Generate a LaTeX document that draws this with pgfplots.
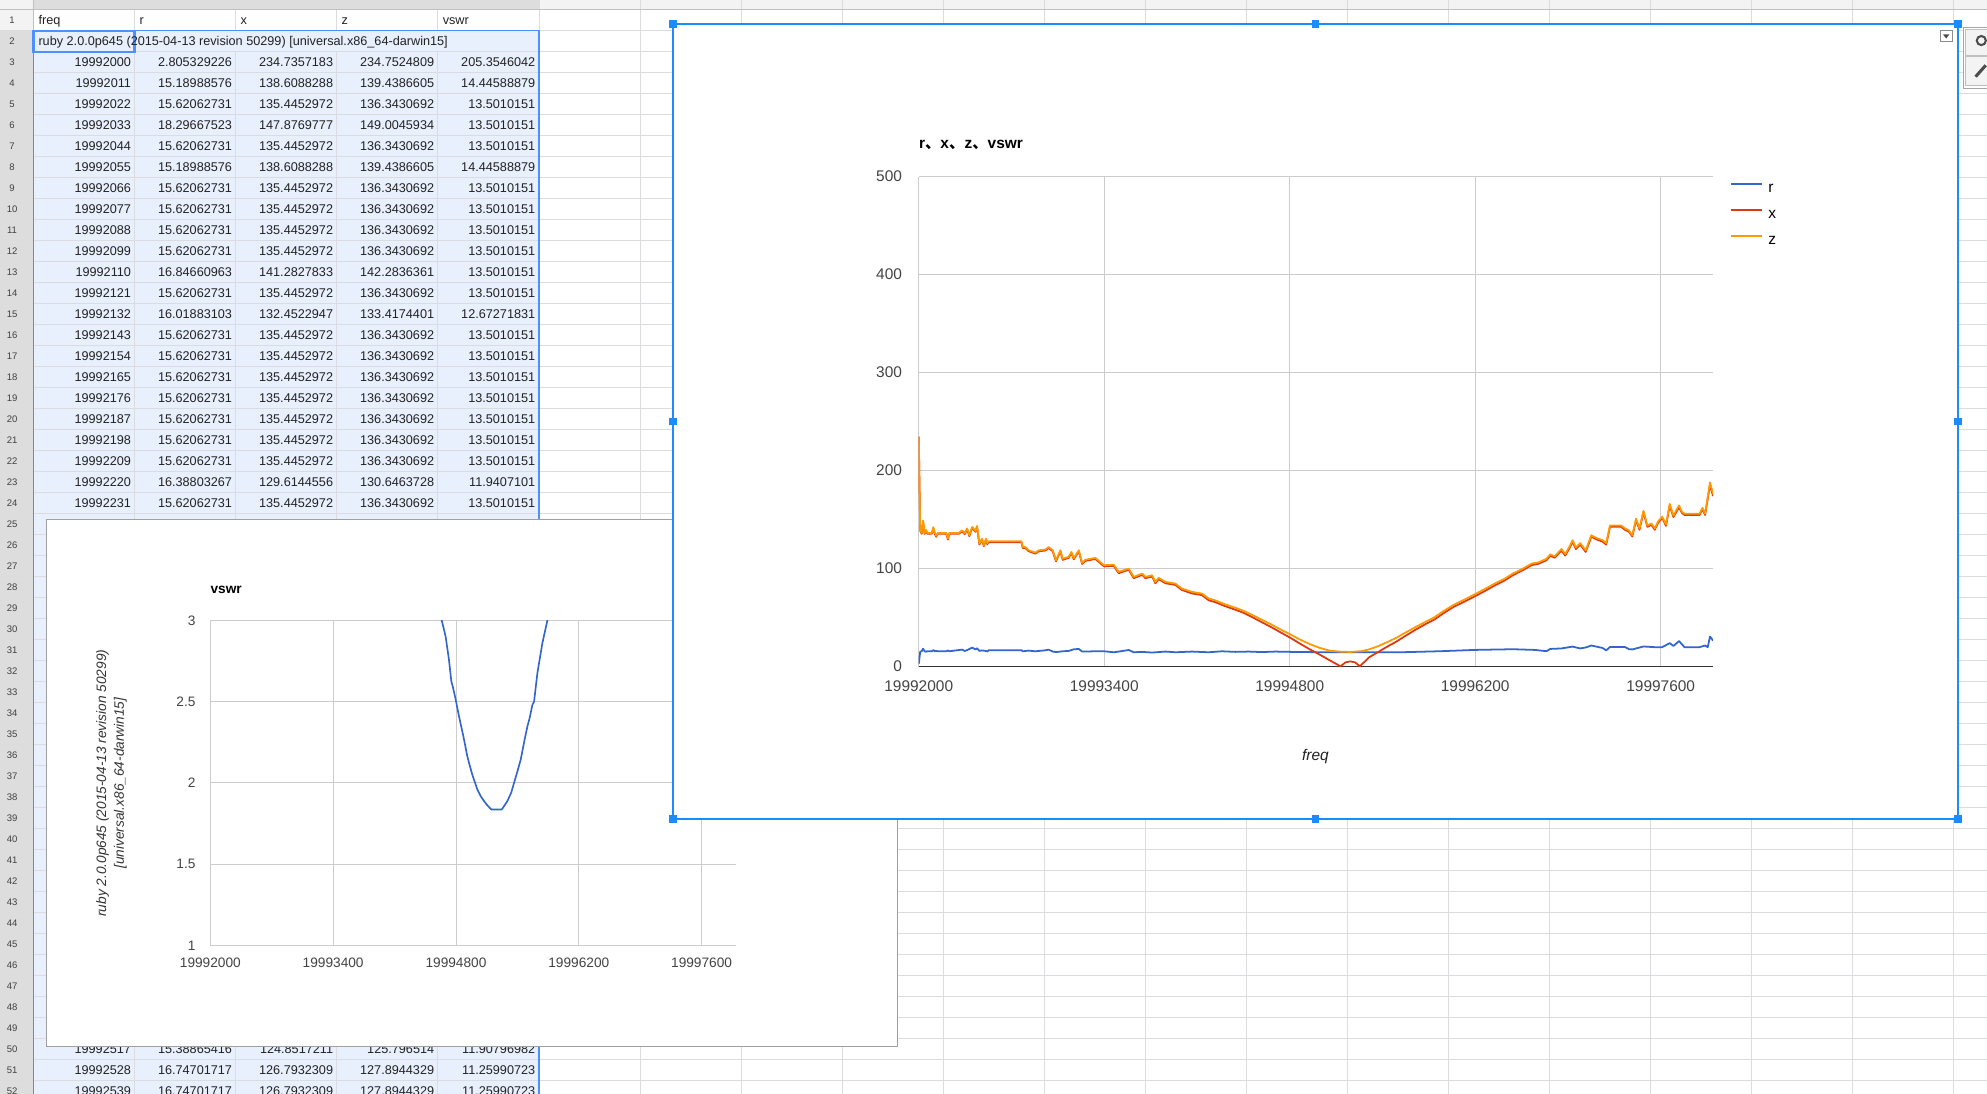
\documentclass[border=0pt]{standalone}
\usepackage{pgfplots}
\pgfplotsset{compat=1.18}
\usepackage{fontspec}
\setmainfont{Liberation Sans}
\newfontfamily\cjk{Noto Sans CJK SC}

\definecolor{selfill}{RGB}{232,240,253}
\definecolor{selblue}{RGB}{77,144,254}
\definecolor{hdrlight}{RGB}{243,243,243}
\definecolor{hdrdark}{RGB}{221,221,221}
\definecolor{hdrline}{RGB}{192,192,192}
\definecolor{gridc}{RGB}{218,220,224}
\definecolor{chartgrid}{RGB}{204,204,204}
\definecolor{tickc}{RGB}{68,68,68}
\definecolor{rblue}{RGB}{51,102,204}
\definecolor{xred}{RGB}{220,57,18}
\definecolor{zorange}{RGB}{255,153,0}
\definecolor{chartblue}{RGB}{26,140,255}
\definecolor{framegray}{RGB}{160,160,160}
\definecolor{celltext}{RGB}{34,34,34}

\tikzset{
  cell/.style={anchor=base east, inner sep=0pt, font=\fontsize{10}{12}\selectfont, text=celltext},
  hcell/.style={anchor=base west, inner sep=0pt, font=\fontsize{10}{12}\selectfont, text=celltext},
  rownum/.style={anchor=center, inner sep=0pt, font=\fontsize{7.5}{9}\selectfont, text=black!75},
}
\newcommand{\trow}[6]{%
  \pgfmathsetmacro{\yb}{-(16+(#1-1)*16.57)-3.6}%
  \node[cell] at (103.55,\yb) {#2};
  \node[cell] at (183.3,\yb) {#3};
  \node[cell] at (263.05,\yb) {#4};
  \node[cell] at (342.8,\yb) {#5};
  \node[cell] at (422.55,\yb) {#6};
}
\newcommand{\std}[2]{\trow{#1}{#2}{15.62062731}{135.4452972}{136.3430692}{13.5010151}}

% x values below are frequencies in Hz above 19992000 (freq - 19992000)
\pgfplotsset{
  freqaxis/.style={
    scale only axis,
    xmin=0, xmax=5995,
    xtick={0,1400,2800,4200,5600},
    xticklabels={19992000,19993400,19994800,19996200,19997600},
    /pgf/number format/assume math mode=true,
    grid=major, grid style={draw=chartgrid, line width=0.75pt},
    axis line style={draw=none},
    major tick length=0pt,
    every axis plot/.append style={line join=round},
  }
}

\begin{document}
\begin{tikzpicture}
\useasboundingbox (0pt,0pt) rectangle (1568pt,-863pt);
\begin{scope}[x=1pt,y=1pt]
\fill[white] (0,0) rectangle (1568,-863);
% selection fill
\fill[selfill] (26.5,-24.29) rectangle (425.25,-863);
% header band and row header
\fill[hdrlight] (0,0) rectangle (1568,-7.72);
\fill[hdrdark] (26.5,0) rectangle (425.25,-7.72);
\fill[hdrlight] (0,-7.72) rectangle (26.5,-24.29);
\fill[hdrdark] (0,-24.29) rectangle (26.5,-863);
% grid lines
\foreach \k in {1,...,52} \draw[gridc, line width=0.6pt] (0,{-(7.72+16.57*\k)}) -- (1568,{-(7.72+16.57*\k)});
\foreach \k in {1,...,4} {
  \draw[gridc, line width=0.6pt] ({26.5+79.75*\k},0) -- ({26.5+79.75*\k},-24.29);
  \draw[gridc, line width=0.6pt] ({26.5+79.75*\k},-40.86) -- ({26.5+79.75*\k},-863);
}
\foreach \k in {5,...,20} \draw[gridc, line width=0.6pt] ({26.5+79.75*\k},0) -- ({26.5+79.75*\k},-863);
\draw[hdrline, line width=0.6pt] (26.5,0) -- (26.5,-863);
\draw[hdrline, line width=0.6pt] (0,-7.72) -- (1568,-7.72);
% selection border
\draw[selblue, line width=1pt] (26.5,-863) -- (26.5,-24.29) -- (425.25,-24.29) -- (425.25,-863);
\draw[selblue, line width=2pt] (26.5,-24.29) rectangle (106.25,-40.86);
% row numbers
\foreach \n in {1,...,52} \node[rownum] at (9.5,{-(16+(\n-1)*16.57)}) {\n};
% header
\node[hcell] at (30.2,-19.6) {freq};
\node[hcell] at (109.95,-19.6) {r};
\node[hcell] at (189.7,-19.6) {x};
\node[hcell] at (269.45,-19.6) {z};
\node[hcell] at (349.2,-19.6) {vswr};
\node[hcell] at (30.2,-36.17) {ruby 2.0.0p645 (2015-04-13 revision 50299) [universal.x86\_64-darwin15]};
% rows
\trow{3}{19992000}{2.805329226}{234.7357183}{234.7524809}{205.3546042}
\trow{4}{19992011}{15.18988576}{138.6088288}{139.4386605}{14.44588879}
\std{5}{19992022}
\trow{6}{19992033}{18.29667523}{147.8769777}{149.0045934}{13.5010151}
\std{7}{19992044}
\trow{8}{19992055}{15.18988576}{138.6088288}{139.4386605}{14.44588879}
\std{9}{19992066}
\std{10}{19992077}
\std{11}{19992088}
\std{12}{19992099}
\trow{13}{19992110}{16.84660963}{141.2827833}{142.2836361}{13.5010151}
\std{14}{19992121}
\trow{15}{19992132}{16.01883103}{132.4522947}{133.4174401}{12.67271831}
\std{16}{19992143}
\std{17}{19992154}
\std{18}{19992165}
\std{19}{19992176}
\std{20}{19992187}
\std{21}{19992198}
\std{22}{19992209}
\trow{23}{19992220}{16.38803267}{129.6144556}{130.6463728}{11.9407101}
\std{24}{19992231}
\trow{50}{19992517}{15.38865416}{124.8517211}{125.796514}{11.90796982}
\trow{51}{19992528}{16.74701717}{126.7932309}{127.8944329}{11.25990723}
\trow{52}{19992539}{16.74701717}{126.7932309}{127.8944329}{11.25990723}
% vswr chart frame
\filldraw[fill=white, draw=framegray, line width=0.8pt] (36.5,-409.6) rectangle (708.5,-825.5);
\node[anchor=base west, inner sep=0pt, font=\bfseries\fontsize{10.8}{12}\selectfont] at (166,-468.5) {vswr};
\node[rotate=90, align=center, inner sep=0pt, font=\itshape\fontsize{10.8}{14}\selectfont, text=black!80] at (88,-618) {ruby 2.0.0p645 (2015-04-13 revision 50299)\\{}[universal.x86\_64-darwin15]};
\end{scope}

\begin{axis}[freqaxis,
  at={(166pt,-746pt)}, anchor=south west,
  width=415pt, height=256.5pt,
  ymin=1, ymax=3, ytick={1,1.5,2,2.5,3},
  tick label style={font=\fontsize{10.8}{12}\selectfont, text=tickc},
  xticklabel style={anchor=base, yshift=-17.3pt},
  yticklabel style={xshift=-8.2pt},
]
\addplot[rblue, line width=1.3pt] coordinates {
(11,14.45) (22,13.50) (220,11.94) (517,11.91) (528,11.26) (2580,3.15) (2637,3.00)
(2660,2.95) (2682,2.90) (2720,2.757) (2747,2.624) (2760,2.60) (2789,2.532) (2834,2.41) (2884,2.287)
(2929,2.164) (2950,2.12) (2986,2.05) (3043,1.96) (3080,1.92) (3119,1.888) (3160,1.86) (3203,1.836)
(3321,1.836) (3340,1.85) (3386,1.888) (3430,1.94) (3462,2.0) (3500,2.07) (3538,2.143) (3580,2.26)
(3614,2.347) (3640,2.40) (3671,2.48) (3690,2.50) (3728,2.675) (3760,2.78) (3785,2.86) (3842,3.0)
(3900,3.2)
};
\end{axis}

\begin{scope}[x=1pt,y=1pt]
\fill[white] (531,-19) rectangle (1545,-646.5);
\end{scope}

\begin{axis}[freqaxis,
  at={(725pt,-526pt)}, anchor=south west,
  width=626.8pt, height=386.6pt,
  ymin=0, ymax=500, ytick={0,100,200,300,400,500},
  tick label style={font=\fontsize{12.2}{14}\selectfont, text=tickc},
  xticklabel style={anchor=base, yshift=-19.3pt},
  yticklabel style={xshift=-9.7pt},
  legend style={at={(axis description cs:1.0208,0.9904)}, anchor=north west, draw=none, fill=none,
    inner sep=0pt, row sep=11.9pt, font=\fontsize{12.2}{14}\selectfont,
    nodes={inner sep=0pt, text height=8.6pt, text depth=0pt}},
  legend cell align=left,
  legend image code/.code={\draw[#1, line width=1.5pt] (0pt,2.6pt) -- (25pt,2.6pt); \path (29pt,2.6pt);},
]
\draw[black!80, line width=1pt] (rel axis cs:0,0) -- (rel axis cs:1,0);
\addplot[rblue, line width=1.4pt] coordinates {
(0,2.81) (11,15.19) (22,15.62) (33,18.30) (44,15.62) (55,15.19) (66,15.62) (99,15.62) (110,16.85)
(121,15.62) (132,16.02) (143,15.62) (209,15.62) (220,16.39) (231,15.62) (327,17.3) (347,15.9)
(365,16.8) (403,19.4) (428,17.5) (440,18.7) (458,16.0) (478,16.5) (508,15.9) (517,15.39) (528,16.75)
(775,16.75) (785,15.6) (830,16.3) (880,15.6) (956,16.6) (981,17.3) (1011,15.3) (1036,14.8)
(1087,15.6) (1132,16.0) (1170,17.6) (1208,18.0) (1233,15.3) (1333,15.6) (1399,15.6) (1472,14.6)
(1509,15.3) (1585,16.9) (1623,14.6) (1686,15.0) (1761,14.3) (1862,15.3) (1937,14.6) (2063,15.3)
(2189,14.6) (2289,15.6) (2390,15.0) (2490,15.3) (2591,14.8) (2692,15.3) (2843,14.9) (3000,14.7)
(3257,14.6) (3459,14.6) (3639,14.6) (3921,15.6) (4200,17.0) (4485,17.7) (4650,17.0) (4738,15.7)
(4766,18.0) (4851,18.5) (4935,20.4) (4992,18.5) (5034,19.5) (5076,21.5) (5161,19.0) (5189,16.5)
(5217,20.0) (5330,20.0) (5360,17.8) (5386,17.5) (5470,20.5) (5555,19.8) (5611,19.8) (5668,23.9)
(5696,21.0) (5738,26.0) (5780,19.8) (5893,19.8) (5935,21.5) (5955,19.8) (5972,30.7) (5995,26.5)
};
\addlegendentry{r}
\addplot[xred, line width=1.4pt] coordinates {
(0,234.74) (11,138.61) (22,135.45) (33,147.88) (44,135.45) (55,138.61) (66,135.45) (99,135.45)
(110,141.28) (121,135.45) (132,132.45) (143,135.45) (209,135.45) (220,129.61) (231,135.45) (302,135.45)
(327,138.1) (347,135.1) (365,140.1) (382,133.1) (403,141.6) (428,137.6) (440,142.6) (458,124.5)
(478,129.6) (491,122.8) (508,129.6) (517,124.85) (528,126.79) (775,126.79) (785,121.0) (805,121.0)
(830,117.7) (880,115.3) (906,117.7) (956,118.4) (981,121.0) (1011,117.7) (1036,107.4) (1069,117.7)
(1087,108.9) (1132,110.9) (1152,116.0) (1170,109.4) (1208,117.7) (1233,104.7) (1258,107.9) (1333,109.8)
(1399,102.2) (1472,102.8) (1509,95.3) (1585,98.8) (1623,90.2) (1686,93.6) (1711,90.2) (1761,91.9)
(1786,85.0) (1811,89.2) (1862,85.0) (1937,83.3) (1987,78.1) (2063,74.6) (2138,72.9) (2189,67.6)
(2240,65.7) (2303,62.1) (2390,58.0) (2447,55.1) (2520,50.2) (2592,45.1) (2660,40.3) (2736,34.5)
(2810,29.0) (2881,23.1) (2950,17.7) (3025,12.3) (3100,6.5) (3184,0.3) (3220,4.2) (3257,5.3)
(3295,4.2) (3329,0.3) (3400,9.5) (3459,14.2) (3530,19.9) (3604,25.4) (3675,31.5) (3748,37.5)
(3820,43.0) (3893,48.1) (3965,54.8) (4037,60.9) (4120,66.4) (4200,71.9) (4270,76.9) (4344,82.6)
(4420,87.7) (4485,93.3) (4560,98.4) (4625,103.5) (4680,105.0) (4738,108.5) (4766,113.1) (4800,111.1)
(4851,118.4) (4879,113.3) (4910,120.4) (4935,127.4) (4960,119.9) (4992,124.5) (5034,117.0) (5076,132.5)
(5120,129.5) (5161,127.5) (5189,124.5) (5217,142.6) (5301,142.6) (5330,139.6) (5360,137.6) (5386,132.8)
(5414,149.6) (5440,139.6) (5470,157.7) (5499,142.6) (5530,144.6) (5555,139.6) (5580,146.6) (5611,151.7)
(5640,143.6) (5668,164.3) (5696,152.6) (5738,162.5) (5760,156.8) (5780,154.7) (5893,154.7) (5915,160.6)
(5935,154.7) (5972,185.5) (5995,174.0)
};
\addlegendentry{x}
\addplot[zorange, line width=1.4pt] coordinates {
(0,234.75) (11,139.44) (22,136.34) (33,149.00) (44,136.34) (55,139.44) (66,136.34) (99,136.34)
(110,142.28) (121,136.34) (132,133.42) (143,136.34) (209,136.34) (220,130.65) (231,136.34) (302,136.34)
(327,139.0) (347,136.0) (365,141.0) (382,134.0) (403,142.5) (428,138.5) (440,143.5) (458,125.5)
(478,130.6) (491,123.8) (508,130.6) (517,125.80) (528,127.89) (775,127.89) (785,122.0) (805,122.0)
(830,118.7) (880,116.3) (906,118.7) (956,119.4) (981,122.0) (1011,118.7) (1036,108.5) (1069,118.7)
(1087,110.0) (1132,112.0) (1152,117.0) (1170,110.5) (1208,118.7) (1233,105.8) (1258,109.0) (1333,110.9)
(1399,103.4) (1472,104.0) (1509,96.6) (1585,100.0) (1623,91.5) (1686,94.9) (1711,91.5) (1761,93.2)
(1786,86.4) (1811,90.5) (1862,86.4) (1937,84.7) (1987,79.6) (2063,76.2) (2138,74.5) (2189,69.4)
(2240,67.5) (2303,64.0) (2390,60.0) (2447,57.2) (2520,52.5) (2592,47.7) (2660,43.0) (2736,37.5)
(2810,32.5) (2881,27.3) (2950,23.0) (3025,19.1) (3100,16.3) (3170,15.3) (3257,14.9) (3343,15.8)
(3400,17.6) (3459,20.4) (3530,24.6) (3604,29.3) (3675,34.8) (3748,40.2) (3820,45.3) (3893,50.4)
(3965,57.0) (4037,63.0) (4120,68.5) (4200,74.0) (4270,79.0) (4344,84.5) (4420,89.5) (4485,95.0)
(4560,100.0) (4625,105.0) (4680,106.5) (4738,110.0) (4766,114.5) (4800,112.5) (4851,120.0) (4879,115.0)
(4910,122.0) (4935,129.0) (4960,121.5) (4992,126.0) (5034,118.6) (5076,134.0) (5120,131.0) (5161,129.0)
(5189,126.0) (5217,144.0) (5301,144.0) (5330,141.0) (5360,139.0) (5386,134.0) (5414,151.0) (5440,141.0)
(5470,159.0) (5499,144.0) (5530,146.0) (5555,141.0) (5580,148.0) (5611,153.0) (5640,145.0) (5668,166.0)
(5696,154.0) (5738,164.5) (5760,158.0) (5780,156.0) (5893,156.0) (5915,162.0) (5935,156.0) (5972,188.0)
(5995,176.0)
};
\addlegendentry{z}
\end{axis}

\begin{scope}[x=1pt,y=1pt]
\node[anchor=base west, inner sep=0pt, font=\bfseries\fontsize{12.2}{14}\selectfont] at (725,-116.8) {r{\cjk 、}x{\cjk 、}z{\cjk 、}vswr};
\node[anchor=base, inner sep=0pt, font=\itshape\fontsize{12.2}{14}\selectfont, text=celltext] at (1038,-600) {freq};
% dropdown
\filldraw[fill=white, draw=black!45, line width=0.6pt] (1531,-24) rectangle (1540.5,-33);
\fill[black!70] (1533.3,-27.2) -- (1538.2,-27.2) -- (1535.75,-30.4) -- cycle;
% side panel
\filldraw[fill=white, draw=black!35, line width=0.6pt] (1549,-21.6) rectangle (1580,-69.7);
\filldraw[fill=hdrlight, draw=black!25, line width=0.5pt] (1550.5,-23.2) rectangle (1580,-43.4);
\filldraw[fill=hdrlight, draw=black!25, line width=0.5pt] (1550.5,-44.8) rectangle (1580,-67.2);
\draw[black!70, line width=1.6pt] (1563.5,-32) circle (3.6);
\draw[black!70, line width=2.4pt] (1559,-60.5) -- (1567,-51.5);
% main chart border and handles
\draw[chartblue, line width=1.3pt] (531,-19) rectangle (1545,-646.5);
\foreach \px/\py in {531/-19,1038/-19,1545/-19,531/-332.5,1545/-332.5,531/-646.5,1038/-646.5,1545/-646.5}
  \fill[chartblue] (\px-3,\py-3) rectangle (\px+3,\py+3);
\end{scope}
\end{tikzpicture}
\end{document}
